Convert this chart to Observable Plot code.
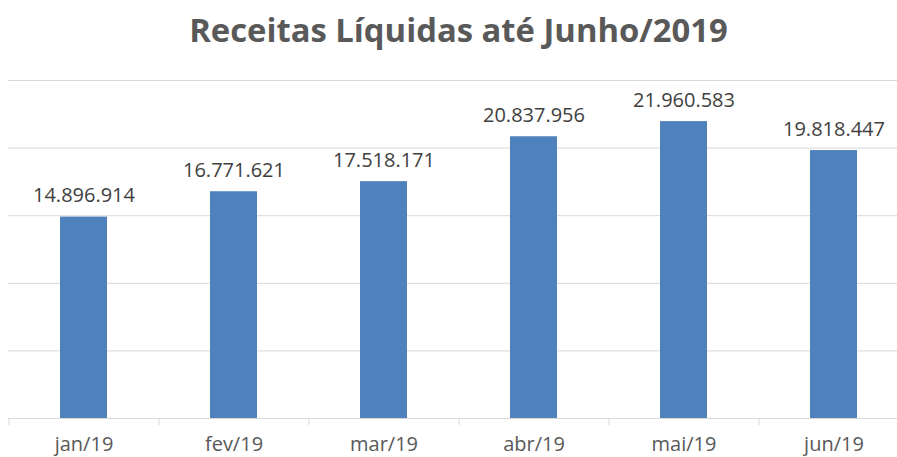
<!DOCTYPE html>
<html>
<head>
<meta charset="utf-8">
<script src="https://cdn.jsdelivr.net/npm/d3@7"></script>
<script src="https://cdn.jsdelivr.net/npm/@observablehq/plot@0.6"></script>
<style>
  html, body { margin: 0; padding: 0; background: #fff; overflow: hidden; }
  #title { height: 62px; line-height: 60px; text-align: center; font-family: "Open Sans", sans-serif; font-weight: 700; font-size: 32.8px; color: #595959; padding-left: 20px; box-sizing: border-box; white-space: nowrap; }
</style>
</head>
<body>
<div id="title">Receitas Líquidas até Junho/2019</div>
<div id="chart"></div>
<script>
const months = ["jan/19", "fev/19", "mar/19", "abr/19", "mai/19", "jun/19"];
const values = [14896914, 16771621, 17518171, 20837956, 21960583, 19818447];
const yTicks = [0, 5000000, 10000000, 15000000, 20000000, 25000000];

const ptBR = d3.formatLocale({decimal: ",", thousands: ".", grouping: [3], currency: ["R$", ""]});
const fmt = ptBR.format(",d");
const data = months.map((m, i) => ({month: m, value: values[i]}));

const chart = Plot.plot({
  width: 897,
  height: 395,
  marginLeft: 8,
  marginRight: -11,
  marginTop: 18,
  marginBottom: 39,
  style: {fontFamily: "'Open Sans', sans-serif", background: "#fff", overflow: "hidden"},
  x: {domain: months, paddingInner: 0.687, paddingOuter: 0.3435, label: null},
  y: {domain: [0, 25000000], axis: null},
  marks: [
    Plot.ruleY(yTicks, {stroke: "#d9d9d9", strokeWidth: 1}),
    Plot.ruleX(months, {x: d => d, y1: 0, y2: 0, dx: -75, stroke: "#d9d9d9", strokeWidth: 1, insetBottom: -7}),
    Plot.barY(data, {x: "month", y: "value", fill: "#4f81bd"}),
    Plot.text(data, {x: "month", y: "value", text: d => fmt(d.value), dy: -21, fontSize: 20, fill: "#404040"}),
    Plot.axisX({tickSize: 0, tickPadding: 18, fontSize: 20, color: "#595959", label: null})
  ]
});
document.getElementById("chart").appendChild(chart);
</script>
</body>
</html>
